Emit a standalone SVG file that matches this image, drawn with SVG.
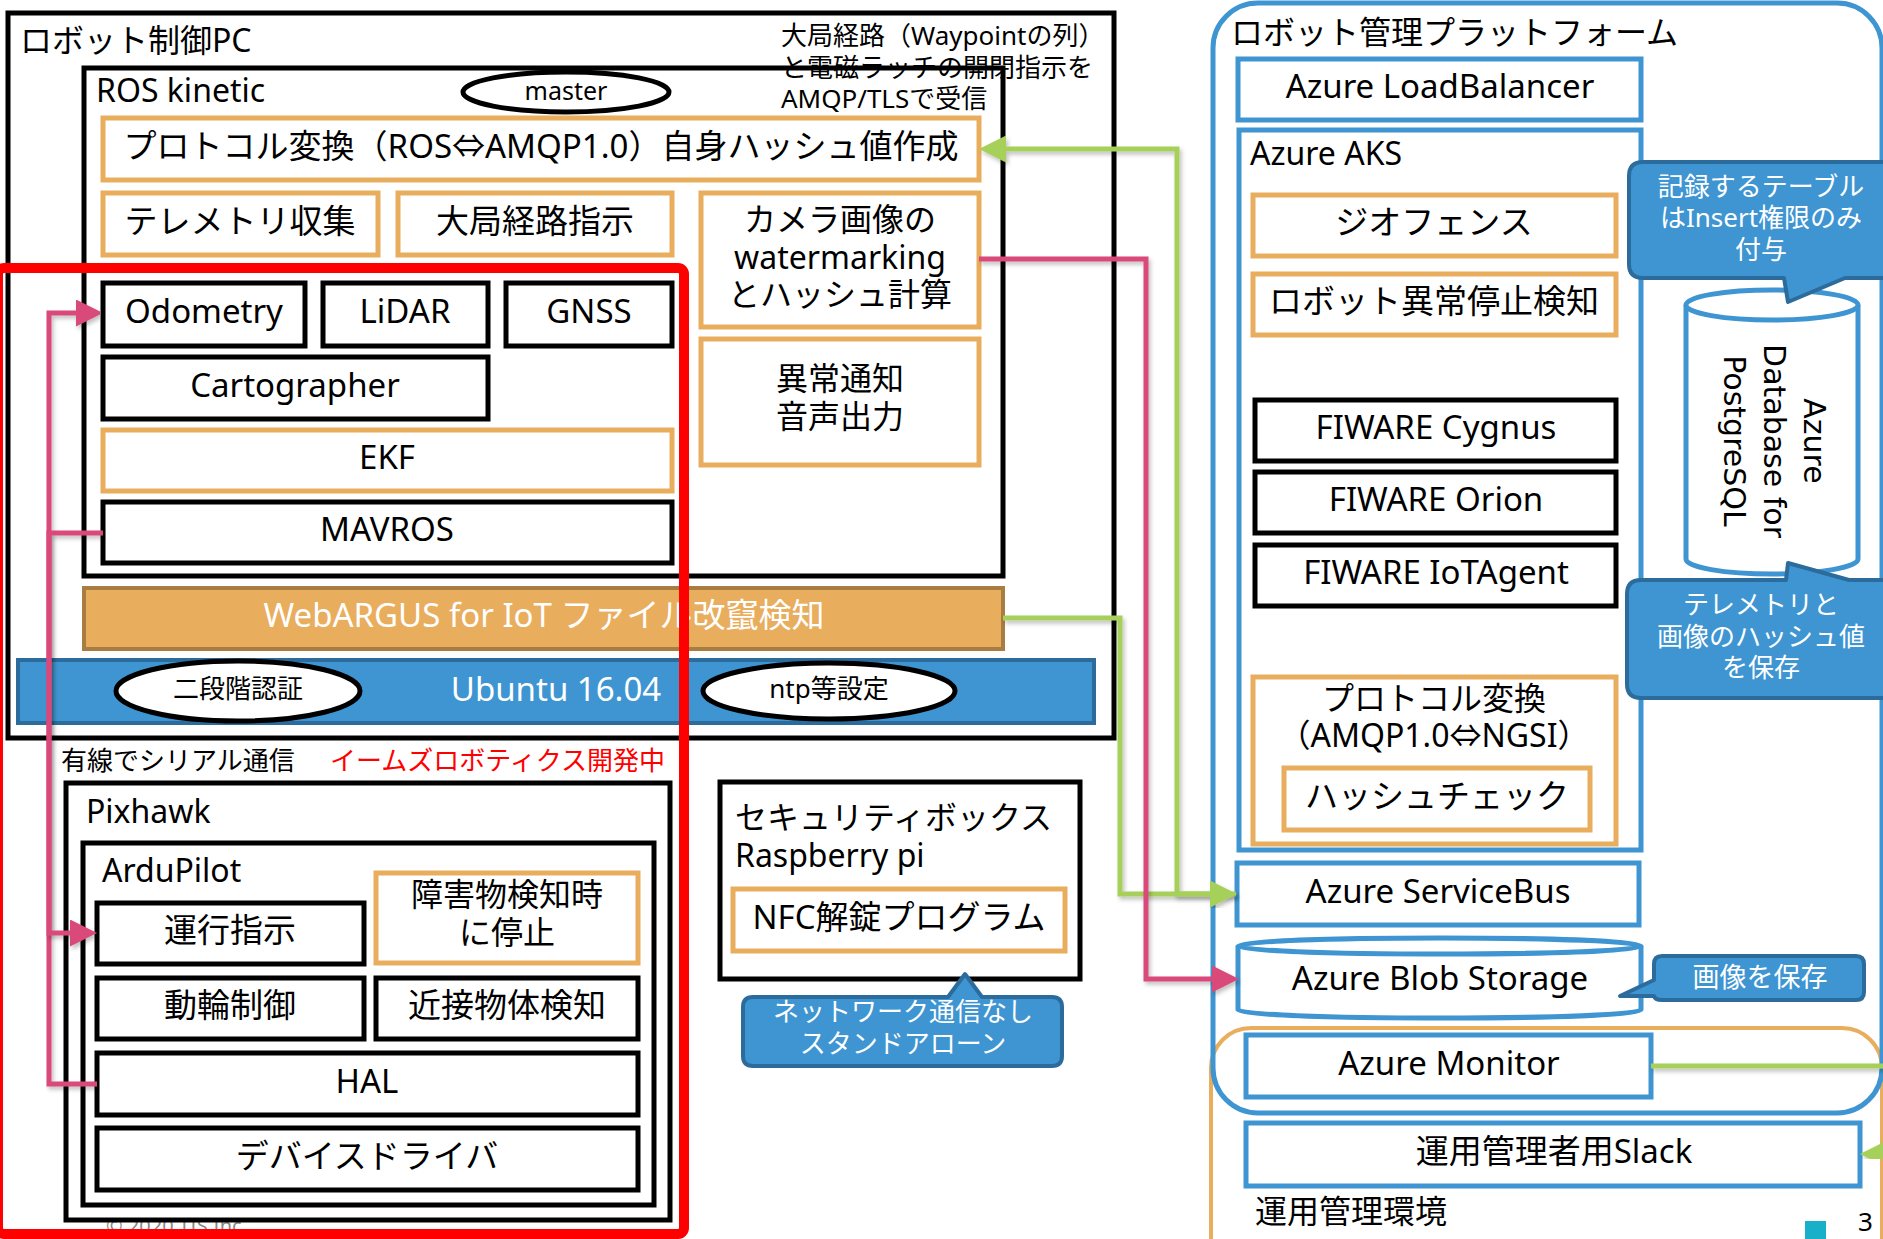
<svg xmlns="http://www.w3.org/2000/svg" width="1883" height="1239" viewBox="0 0 1883 1239">
<defs>
<style>
text{font-family:"Noto Sans","Noto Sans CJK JP",sans-serif;fill:#000}
.c{text-anchor:middle;dominant-baseline:central}
.lb{font-size:33px}
.ml{font-size:32px}
.tt{font-size:32px}
.sm{font-size:26px}
.co{font-size:26px}
.w{fill:#fff}
.blk{fill:#fff;stroke:#000;stroke-width:5}
.org{fill:#fff;stroke:#E9AD5E;stroke-width:5}
.blu{fill:#fff;stroke:#3E95D1;stroke-width:5}
.ell{fill:#fff;stroke:#000;stroke-width:5}
.call{fill:#3E95D1;stroke:#2C6C9C;stroke-width:4;stroke-linejoin:round}
.cn{fill:none;stroke-width:5;filter:url(#sh)}
.g{stroke:#A6D05A}
.p{stroke:#D9497A}
</style>
<marker id="ag" viewBox="0 0 27 27" markerUnits="userSpaceOnUse" markerWidth="27" markerHeight="27" refX="21" refY="13.5" orient="auto"><path d="M0,0 L27,13.5 L0,27 Z" fill="#A6D05A"/></marker>
<marker id="ap" viewBox="0 0 27 27" markerUnits="userSpaceOnUse" markerWidth="27" markerHeight="27" refX="21" refY="13.5" orient="auto"><path d="M0,0 L27,13.5 L0,27 Z" fill="#D9497A"/></marker>
<filter id="sh" x="-5%" y="-5%" width="110%" height="110%"><feDropShadow dx="2" dy="3" stdDeviation="2" flood-color="#000" flood-opacity="0.25"/></filter>
</defs>
<rect width="1883" height="1239" fill="#fff"/>

<!-- footer -->
<text x="106" y="1233" font-size="20" style="fill:#888">© 2020 TIS Inc.</text>

<!-- Robot control PC -->
<g id="robot-pc">
<rect x="8" y="13" width="1106" height="725" fill="none" stroke="#000" stroke-width="5"/>
<text class="tt" x="20" y="52">ロボット制御PC</text>
<text class="sm" x="781" y="45">大局経路（Waypointの列）</text>
<text class="sm" x="781" y="77">と電磁ラッチの開閉指示を</text>
<text class="sm" x="781" y="108">AMQP/TLSで受信</text>
</g>
<g id="ros-kinetic">
<rect x="84" y="68" width="919" height="508" fill="none" stroke="#000" stroke-width="5"/>
<text class="tt" x="96" y="102">ROS kinetic</text>
</g>
<g id="master"><ellipse class="ell" cx="566" cy="92" rx="103" ry="20"/><text class="c" x="566" y="90" font-size="25">master</text></g>
<g id="protocol-ros"><rect class="org" x="103" y="118" width="876" height="62"/><text class="c lb" x="541" y="145">プロトコル変換（ROS⇔AMQP1.0）自身ハッシュ値作成</text></g>
<g id="telemetry"><rect class="org" x="103" y="193" width="275" height="62"/><text class="c lb" x="240" y="220">テレメトリ収集</text></g>
<g id="route"><rect class="org" x="398" y="193" width="274" height="62"/><text class="c lb" x="535" y="220">大局経路指示</text></g>
<g id="camera"><rect class="org" x="701" y="193" width="278" height="134"/>
<text class="c ml" x="840" y="218">カメラ画像の</text><text class="c ml" x="840" y="256">watermarking</text><text class="c ml" x="840" y="293">とハッシュ計算</text></g>
<g id="alert"><rect class="org" x="701" y="339" width="278" height="126"/>
<text class="c ml" x="840" y="377">異常通知</text><text class="c ml" x="840" y="415">音声出力</text></g>
<g id="odometry"><rect class="blk" x="103" y="283" width="202" height="63"/><text class="c lb" x="204" y="310">Odometry</text></g>
<g id="lidar"><rect class="blk" x="323" y="283" width="165" height="63"/><text class="c lb" x="405" y="310">LiDAR</text></g>
<g id="gnss"><rect class="blk" x="506" y="283" width="166" height="63"/><text class="c lb" x="589" y="310">GNSS</text></g>
<g id="cartographer"><rect class="blk" x="103" y="357" width="385" height="62"/><text class="c lb" x="295" y="384">Cartographer</text></g>
<g id="ekf"><rect class="org" x="103" y="430" width="569" height="61"/><text class="c lb" x="387" y="456">EKF</text></g>
<g id="mavros"><rect class="blk" x="103" y="502" width="569" height="61"/><text class="c lb" x="387" y="528">MAVROS</text></g>
<g id="webargus"><rect x="84" y="588" width="919" height="61" fill="#E9AD5E" stroke="#A97C42" stroke-width="4"/><text class="c lb w" x="544" y="614">WebARGUS for IoT ファイル改竄検知</text></g>
<g id="ubuntu"><rect x="18" y="660" width="1076" height="63" fill="#3E95D1" stroke="#2C6C9C" stroke-width="4"/><text class="c lb w" x="556" y="688">Ubuntu 16.04</text></g>
<g id="two-factor"><ellipse class="ell" cx="238" cy="691" rx="122" ry="30"/><text class="c" x="238" y="688" font-size="26">二段階認証</text></g>
<g id="ntp"><ellipse class="ell" cx="829" cy="691" rx="126" ry="28"/><text class="c" x="829" y="688" font-size="26">ntp等設定</text></g>

<!-- serial / pixhawk -->
<text x="61" y="770" font-size="26">有線でシリアル通信</text>
<text x="330" y="770" font-size="26" style="fill:#FF0000">イームズロボティクス開発中</text>
<g id="pixhawk"><rect x="66" y="783" width="604" height="437" fill="none" stroke="#000" stroke-width="5"/><text class="tt" x="86" y="823">Pixhawk</text></g>
<g id="ardupilot"><rect x="83" y="843" width="571" height="362" fill="none" stroke="#000" stroke-width="5"/><text class="tt" x="102" y="882">ArduPilot</text></g>
<g id="drive-cmd"><rect class="blk" x="97" y="903" width="267" height="61"/><text class="c lb" x="230" y="929">運行指示</text></g>
<g id="obstacle-stop"><rect class="org" x="376" y="873" width="262" height="90"/><text class="c ml" x="507" y="893">障害物検知時</text><text class="c ml" x="507" y="931">に停止</text></g>
<g id="wheel"><rect class="blk" x="97" y="978" width="267" height="61"/><text class="c lb" x="230" y="1004">動輪制御</text></g>
<g id="proximity"><rect class="blk" x="376" y="978" width="262" height="61"/><text class="c lb" x="507" y="1004">近接物体検知</text></g>
<g id="hal"><rect class="blk" x="97" y="1053" width="541" height="62"/><text class="c lb" x="367" y="1080">HAL</text></g>
<g id="device-driver"><rect class="blk" x="97" y="1128" width="541" height="62"/><text class="c lb" x="367" y="1155">デバイスドライバ</text></g>

<!-- security box -->
<g id="security-box"><rect x="720" y="782" width="360" height="197" fill="#fff" stroke="#000" stroke-width="5"/>
<text class="tt" x="735" y="829">セキュリティボックス</text><text class="tt" x="735" y="867">Raspberry pi</text></g>
<g id="nfc"><rect class="org" x="733" y="889" width="332" height="62"/><text class="c lb" x="899" y="916">NFC解錠プログラム</text></g>
<g id="callout-standalone"><path class="call" d="M753,997 H948 L965,974 L982,997 H1052 Q1062,997 1062,1007 V1056 Q1062,1066 1052,1066 H753 Q743,1066 743,1056 V1007 Q743,997 753,997 Z"/>
<text class="c co w" x="903" y="1011">ネットワーク通信なし</text><text class="c co w" x="903" y="1043">スタンドアローン</text></g>

<!-- platform -->
<g id="ops-env"><rect x="1211" y="1028" width="671" height="270" rx="40" fill="none" stroke="#E9AD5E" stroke-width="4"/><text class="tt" x="1255" y="1223">運用管理環境</text></g>
<g id="platform"><rect x="1213" y="3" width="669" height="1110" rx="45" fill="none" stroke="#3E95D1" stroke-width="5"/><text class="tt" x="1231" y="44">ロボット管理プラットフォーム</text></g>
<g id="loadbalancer"><rect class="blu" x="1238" y="59" width="403" height="61"/><text class="c lb" x="1440" y="85">Azure LoadBalancer</text></g>
<g id="aks"><rect x="1239" y="130" width="402" height="720" fill="none" stroke="#3E95D1" stroke-width="5"/><text class="tt" x="1250" y="165">Azure AKS</text></g>
<g id="geofence"><rect class="org" x="1253" y="195" width="363" height="61"/><text class="c lb" x="1434" y="221">ジオフェンス</text></g>
<g id="stop-detect"><rect class="org" x="1253" y="274" width="363" height="61"/><text class="c lb" x="1434" y="300">ロボット異常停止検知</text></g>
<g id="cygnus"><rect class="blk" x="1255" y="400" width="361" height="61"/><text class="c lb" x="1436" y="426">FIWARE Cygnus</text></g>
<g id="orion"><rect class="blk" x="1255" y="472" width="361" height="61"/><text class="c lb" x="1436" y="498">FIWARE Orion</text></g>
<g id="iotagent"><rect class="blk" x="1255" y="545" width="361" height="61"/><text class="c lb" x="1436" y="571">FIWARE IoTAgent</text></g>
<g id="protocol-ngsi"><rect class="org" x="1253" y="677" width="363" height="167"/><text class="c ml" x="1434" y="697">プロトコル変換</text><text class="c ml" x="1434" y="734">（AMQP1.0⇔NGSI）</text></g>
<g id="hash-check"><rect class="org" x="1284" y="768" width="306" height="62"/><text class="c lb" x="1437" y="795">ハッシュチェック</text></g>
<g id="servicebus"><rect class="blu" x="1237" y="863" width="402" height="62"/><text class="c lb" x="1438" y="890">Azure ServiceBus</text></g>
<g id="blob"><path d="M1238,946 V1010 A201.5,8 0 0 0 1641,1010 V946" fill="#fff" stroke="#3E95D1" stroke-width="5"/><ellipse cx="1439.5" cy="946" rx="201.5" ry="8" fill="#fff" stroke="#3E95D1" stroke-width="5"/><text class="c lb" x="1440" y="977">Azure Blob Storage</text></g>
<g id="postgres"><path d="M1686,305 V559 A86,15 0 0 0 1858,559 V305" fill="#fff" stroke="#3E95D1" stroke-width="5"/><ellipse cx="1772" cy="305" rx="86" ry="15" fill="#fff" stroke="#3E95D1" stroke-width="5"/>
<text transform="translate(1775,441) rotate(90)" text-anchor="middle" dominant-baseline="central" font-size="30" style="font-family:'DejaVu Sans',sans-serif"><tspan x="0" y="-40">Azure</tspan><tspan x="0" y="0">Database for</tspan><tspan x="0" y="40">PostgreSQL</tspan></text></g>
<g id="callout-insert"><path class="call" d="M1643,162 H1885 Q1899,162 1899,176 V264 Q1899,278 1885,278 H1845 L1788,302 L1784,278 H1643 Q1629,278 1629,264 V176 Q1629,162 1643,162 Z"/>
<text class="c co w" x="1761" y="186">記録するテーブル</text><text class="c co w" x="1761" y="217">はInsert権限のみ</text><text class="c co w" x="1761" y="249">付与</text></g>
<g id="callout-hash"><path class="call" d="M1641,580 H1786 L1788,563 L1849,580 H1883 Q1897,580 1897,594 V684 Q1897,698 1883,698 H1641 Q1627,698 1627,684 V594 Q1627,580 1641,580 Z"/>
<text class="c co w" x="1761" y="604">テレメトリと</text><text class="c co w" x="1761" y="636">画像のハッシュ値</text><text class="c co w" x="1761" y="667">を保存</text></g>
<g id="callout-image"><path class="call" d="M1662,956 H1856 Q1864,956 1864,964 V992 Q1864,1000 1856,1000 H1662 Q1655,1000 1654,996 L1620,996 L1654,980 V964 Q1654,956 1662,956 Z"/>
<text class="c w" x="1760" y="976" font-size="27">画像を保存</text></g>
<g id="monitor"><rect class="blu" x="1246" y="1035" width="405" height="62"/><text class="c lb" x="1449" y="1062">Azure Monitor</text></g>
<g id="slack"><rect class="blu" x="1246" y="1123" width="614" height="63"/><text class="c lb" x="1554" y="1150">運用管理者用Slack</text></g>

<!-- connectors -->
<g id="connectors">
<path class="cn g" d="M1236,894 H1177 V149 H985" marker-end="url(#ag)"/>
<path class="cn g" d="M1003,618 H1120 V894 H1231" marker-end="url(#ag)"/>
<path class="cn p" d="M979,259 H1146 V979 H1233" marker-end="url(#ap)"/>
<path class="cn p" d="M97,1084 H49 V313 H97" marker-end="url(#ap)"/>
<path class="cn p" d="M103,533 H49 V933 H91" marker-end="url(#ap)"/>
<path class="cn g" d="M1617,430 H1680" marker-end="url(#ag)"/>
<path class="cn g" d="M1651,1066 H1910 V1154 H1866" marker-end="url(#ag)"/>
</g>

<!-- red highlight -->
<g id="highlight"><rect x="-2" y="268" width="686" height="966" rx="6" fill="none" stroke="#FF0000" stroke-width="10"/></g>

<!-- page number -->
<rect x="1805" y="1221" width="21" height="18" fill="#17B0C8"/>
<text x="1858" y="1231" font-size="26">3</text>
</svg>
